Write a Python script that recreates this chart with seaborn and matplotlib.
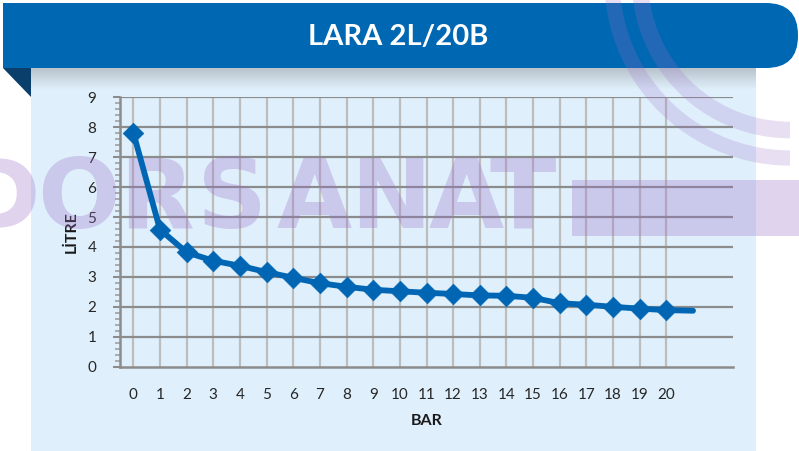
import numpy as np
import pandas as pd
import matplotlib
matplotlib.use("Agg")
import matplotlib.pyplot as plt
import seaborn as sns
from matplotlib.patches import FancyBboxPatch, Polygon, Rectangle, Arc

# ---- data ----
bar_labels = [str(i) for i in range(21)] + ["", ""]
bar_pos = list(range(23))
litre = [7.82, 4.58, 3.82, 3.54, 3.37, 3.16, 2.97, 2.79, 2.67, 2.57, 2.52,
         2.47, 2.43, 2.38, 2.37, 2.30, 2.12, 2.07, 2.00, 1.94, 1.89, 1.87]
n_markers = 21
title = "LARA 2L/20B"
x_title = "BAR"
y_title = "LİTRE"
watermark_letters = ["D", "O", "R", "S", "A", "N", "A", "T"]

df_line = pd.DataFrame({"bar": bar_pos[:len(litre)], "litre": litre})
df_pts = df_line.iloc[:n_markers]

sns.set_theme(style="white")
plt.rcParams["font.family"] = ["Lato", "DejaVu Sans"]

W, H = 799, 451
fig = plt.figure(figsize=(W / 100, H / 100), dpi=100)
fig.patch.set_facecolor("white")

# background (pixel-coordinate) axes
bg = fig.add_axes([0, 0, 1, 1])
bg.set_xlim(0, W)
bg.set_ylim(H, 0)
bg.axis("off")
bg.set_zorder(0)

# light blue panel
bg.add_patch(Rectangle((31, 68), 725, 390, facecolor="#DFF0FC", edgecolor="none", zorder=1))
# shadow under header
grad = np.zeros((30, 2, 4))
grad[..., :3] = 0.45
grad[..., 3] = np.linspace(0.35, 0.0, 30)[:, None]
bg.imshow(grad, extent=(31, 756, 90, 68), aspect="auto", zorder=1.5, interpolation="bilinear")
# header fold triangle
bg.add_patch(Polygon([(3, 68), (31, 68), (31, 97)], closed=True, facecolor="#0B3F6B",
                     edgecolor="none", zorder=2))
# header banner
bg.add_patch(FancyBboxPatch((3, 3), 795, 65, boxstyle="round,pad=0,rounding_size=32",
                            facecolor="#0067B2", edgecolor="none", zorder=3))
bg.add_patch(Rectangle((3, 3), 60, 65, facecolor="#0067B2", edgecolor="none", zorder=3))
bg.text(398, 37, title, color="white", fontsize=21, fontweight="bold",
        ha="center", va="center", zorder=4)

# main axes
ax = fig.add_axes([120 / W, (H - 366.7) / H, 613 / W, 269.4 / H])
ax.set_zorder(1)
ax.patch.set_alpha(0)

# watermark (decorative, semi-transparent)
wm_color = "#9B6FC8"
wm_centers = [0, 78, 157, 232, 314, 391, 466, 523]
for ch, cx in zip(watermark_letters, wm_centers):
    ax.text(cx, 228, ch, transform=bg.transData, fontsize=70, fontweight="bold",
            family="DejaVu Sans", color=wm_color, alpha=0.3, ha="center",
            va="baseline", clip_on=False, zorder=1)
ax.add_patch(Rectangle((572, 180), 227, 56, transform=bg.transData, facecolor=wm_color,
                       alpha=0.3, edgecolor="none", clip_on=False, zorder=1))
for r, lw in [(356, 11), (300, 12)]:
    ax.add_patch(Arc((790, -20), r, r, theta1=90, theta2=200, transform=bg.transData,
                     color=wm_color, alpha=0.22, lw=lw, clip_on=False, zorder=1))

# gridlines
for y in range(1, 10):
    ax.axhline(y, color="#8C8C8C", lw=1.6, zorder=0.5)
for x in range(21):
    ax.axvline(x, color="#BDBDBD", lw=1.6, zorder=0.4)

sns.lineplot(data=df_line, x="bar", y="litre", ax=ax, color="#0066B3", lw=4.2,
             solid_capstyle="round", zorder=3)
sns.scatterplot(data=df_pts, x="bar", y="litre", ax=ax, color="#0066B3", marker="D",
                s=110, edgecolor="#0066B3", linewidth=0.5, zorder=4)

ax.set_xlim(-0.5, 22.5)
ax.set_ylim(0, 9)
ax.set_xticks(bar_pos)
ax.set_xticklabels(bar_labels)
ax.set_yticks(range(10))
ax.set_yticks(np.arange(0, 9.01, 0.2), minor=True)
ax.tick_params(axis="x", length=0, pad=15, labelsize=11, labelcolor="#262626")
ax.tick_params(axis="y", which="major", length=5, width=1.5, color="#8C8C8C", direction="out",
               pad=12, labelsize=11, labelcolor="#262626", left=True)
ax.tick_params(axis="y", which="minor", length=3.5, width=1.2, color="#A0A0A0", direction="out",
               left=True)
for s in ["top", "right"]:
    ax.spines[s].set_visible(False)
for s in ["left", "bottom"]:
    ax.spines[s].set_color("#8C8C8C")
    ax.spines[s].set_linewidth(1.8)

ax.set_xlabel(x_title, fontsize=11.5, fontweight="bold", color="#1A1A1A")
ax.xaxis.set_label_coords(0.5, -0.2016)
ax.xaxis.label.set_va("center")
ax.set_ylabel(y_title, fontsize=11.5, fontweight="bold", color="#1A1A1A")
ax.yaxis.set_label_coords(-0.079, 0.5)
ax.yaxis.label.set_va("center")

fig.savefig("out.png", dpi=100)
